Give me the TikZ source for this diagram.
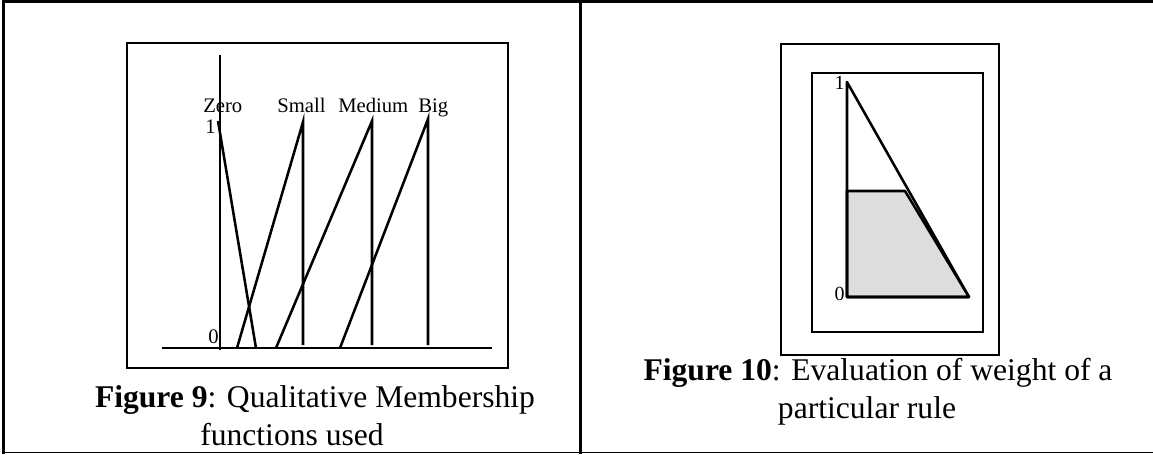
\documentclass[tikz,border=0pt]{standalone}
\usepackage{fontspec}
\setmainfont{Liberation Serif}
\usetikzlibrary{positioning}
\definecolor{hellgrau}{RGB}{221,221,221}

\begin{document}
\begin{tikzpicture}[x=0.75pt, y=-0.75pt,
		rahmen/.style={line width=2.25pt},   %Tabellenlinien
		kurve/.style={line width=1.9pt},
		box/.style={line width=1.8pt},
		lbl/.style={inner sep=0pt, font=\fontsize{15.5}{18}\selectfont},
		zahl/.style={inner sep=0pt, font=\fontsize{15}{18}\selectfont},
		bildtext/.style={inner sep=0pt, anchor=base, font=\fontsize{23.7}{28}\selectfont}]
		\useasboundingbox (0,0) rectangle (1153,454);
		% Tabelle zeichnen
		\draw[rahmen] (3.5,454) -- (3.5,1.5) -- (1153,1.5);
		\draw[rahmen] (580,1.5) -- (580,454);
		\draw[line width=1.2pt] (3.5,452.5) -- (1153,452.5);
		%%% Figure 9
		\draw[box] (127,43) rectangle (508,368);
		% Achsen
		\coordinate (yTop) at (220,55);
		\coordinate (yBot) at (220,350);
		\coordinate (xL) at (162,348);
		\coordinate (xR) at (492,348);
		\draw[kurve] (yBot) -- (yTop);
		\draw[kurve] (xL) -- (xR);
		% Zugehoerigkeitsfunktionen
		\coordinate (zero-t) at (218,121);
		\coordinate (zero-b) at (256,348);
		\draw[kurve] (zero-t) -- (zero-b);
		\foreach \a/\b/\t/\n in {237/303/122/small, 276/372/121/medium, 340/428/119/big}
		{
			\coordinate (\n-a) at (\a,348);
			\coordinate (\n-t) at (\b,\t);
			\coordinate (\n-b) at (\b,345);
			\draw[kurve] (\n-a) -- (\n-t) -- (\n-b);
		}
		% Beschriftung
		\node[lbl, anchor=base west] (lZero) at (203,112) {Zero};
		\node[lbl, anchor=base west] (lSmall) at (277,112) {Small};
		\node[lbl, anchor=base west] (lMedium) at (338,112) {Medium};
		\node[lbl, anchor=base west] (lBig) at (418,112) {Big};
		\node[lbl, anchor=base west] (eins) at (205,133) {1};
		\node[lbl, anchor=base west] (null) at (208,343) {0};
		\node[bildtext] (cap9a) at (315,407) {\textbf{Figure 9}: Qualitative Membership};
		\node[bildtext] (cap9b) at (292,445) {functions used};
		%%% Figure 10
		\draw[box] (781,44) rectangle (999,355);
		\draw[box] (812,73) rectangle (983,332);
		\coordinate (T) at (847,82);
		\coordinate (O) at (847,297);
		\coordinate (R) at (969,297);
		\coordinate (hL) at (847,191);
		\coordinate (hR) at (905,191);
		% Gewicht (Flaeche)
		\draw[kurve, fill=hellgrau, line join=round] (O) -- (hL) -- (hR) -- (R) -- cycle;
		\draw[kurve, line join=round] (R) -- (O) -- (T) -- cycle;
		\node[zahl, anchor=base east] (eins2) at (845,89) {1};
		\node[zahl, anchor=base east] (null2) at (845,300) {0};
		\node[bildtext] (cap10a) at (878,380) {\textbf{Figure 10}: Evaluation of weight of a};
		\node[bildtext] (cap10b) at (867,418) {particular rule};
	\end{tikzpicture}
\end{document}
